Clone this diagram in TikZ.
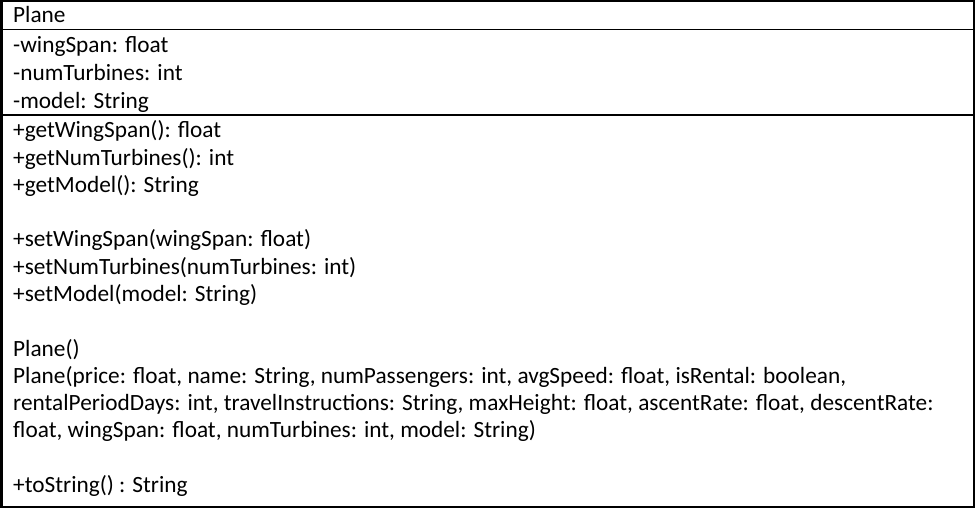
\documentclass[tikz,border=0pt]{standalone}
\usepackage{fontspec}
\setmainfont{Carlito}
\begin{document}
\begin{tikzpicture}[x=1pt,y=-1pt,
  member/.style={anchor=base west, inner sep=0pt, font=\fontsize{23.3}{28}\selectfont},
  frame/.style={line width=2.5pt},
  thinrule/.style={line width=1pt},
  thickrule/.style={line width=2pt}]
\useasboundingbox (0,0) rectangle (975,508);
\fill[white] (0,0) rectangle (975,508);
% class box and compartment rules
\draw[frame] (1.25,1.25) rectangle (973.75,506.75);
\draw[thinrule] (0,30) -- (975,30);
\draw[thickrule] (0,115) -- (975,115);
% name
\node[member] (cls) at (13,23) {Plane};
% attributes
\node[member] (a1) at (13,52.5) {-wingSpan: float};
\node[member] (a2) at (13,80.5) {-numTurbines: int};
\node[member] (a3) at (13,108.5) {-model: String};
% operations, one row every 27.23pt
\node[member] (m1) at (13,138) {+getWingSpan(): float};
\node[member] (m2) at (13,165.2) {+getNumTurbines(): int};
\node[member] (m3) at (13,192.5) {+getModel(): String};
\node[member] (m4) at (13,246.9) {+setWingSpan(wingSpan: float)};
\node[member] (m5) at (13,274.2) {+setNumTurbines(numTurbines: int)};
\node[member] (m6) at (13,301.4) {+setModel(model: String)};
\node[member] (c1) at (13,356.5) {Plane()};
\node[member] (c2) at (13,383.5) {Plane(price: float, name: String, numPassengers: int, avgSpeed: float, isRental: boolean,};
\node[member] (c3) at (13,410.5) {rentalPeriodDays: int, travelInstructions: String, maxHeight: float, ascentRate: float, descentRate:};
\node[member] (c4) at (13,437.5) {float, wingSpan: float, numTurbines: int, model: String)};
\node[member] (m7) at (13,492) {+toString() : String};
\end{tikzpicture}
\end{document}
